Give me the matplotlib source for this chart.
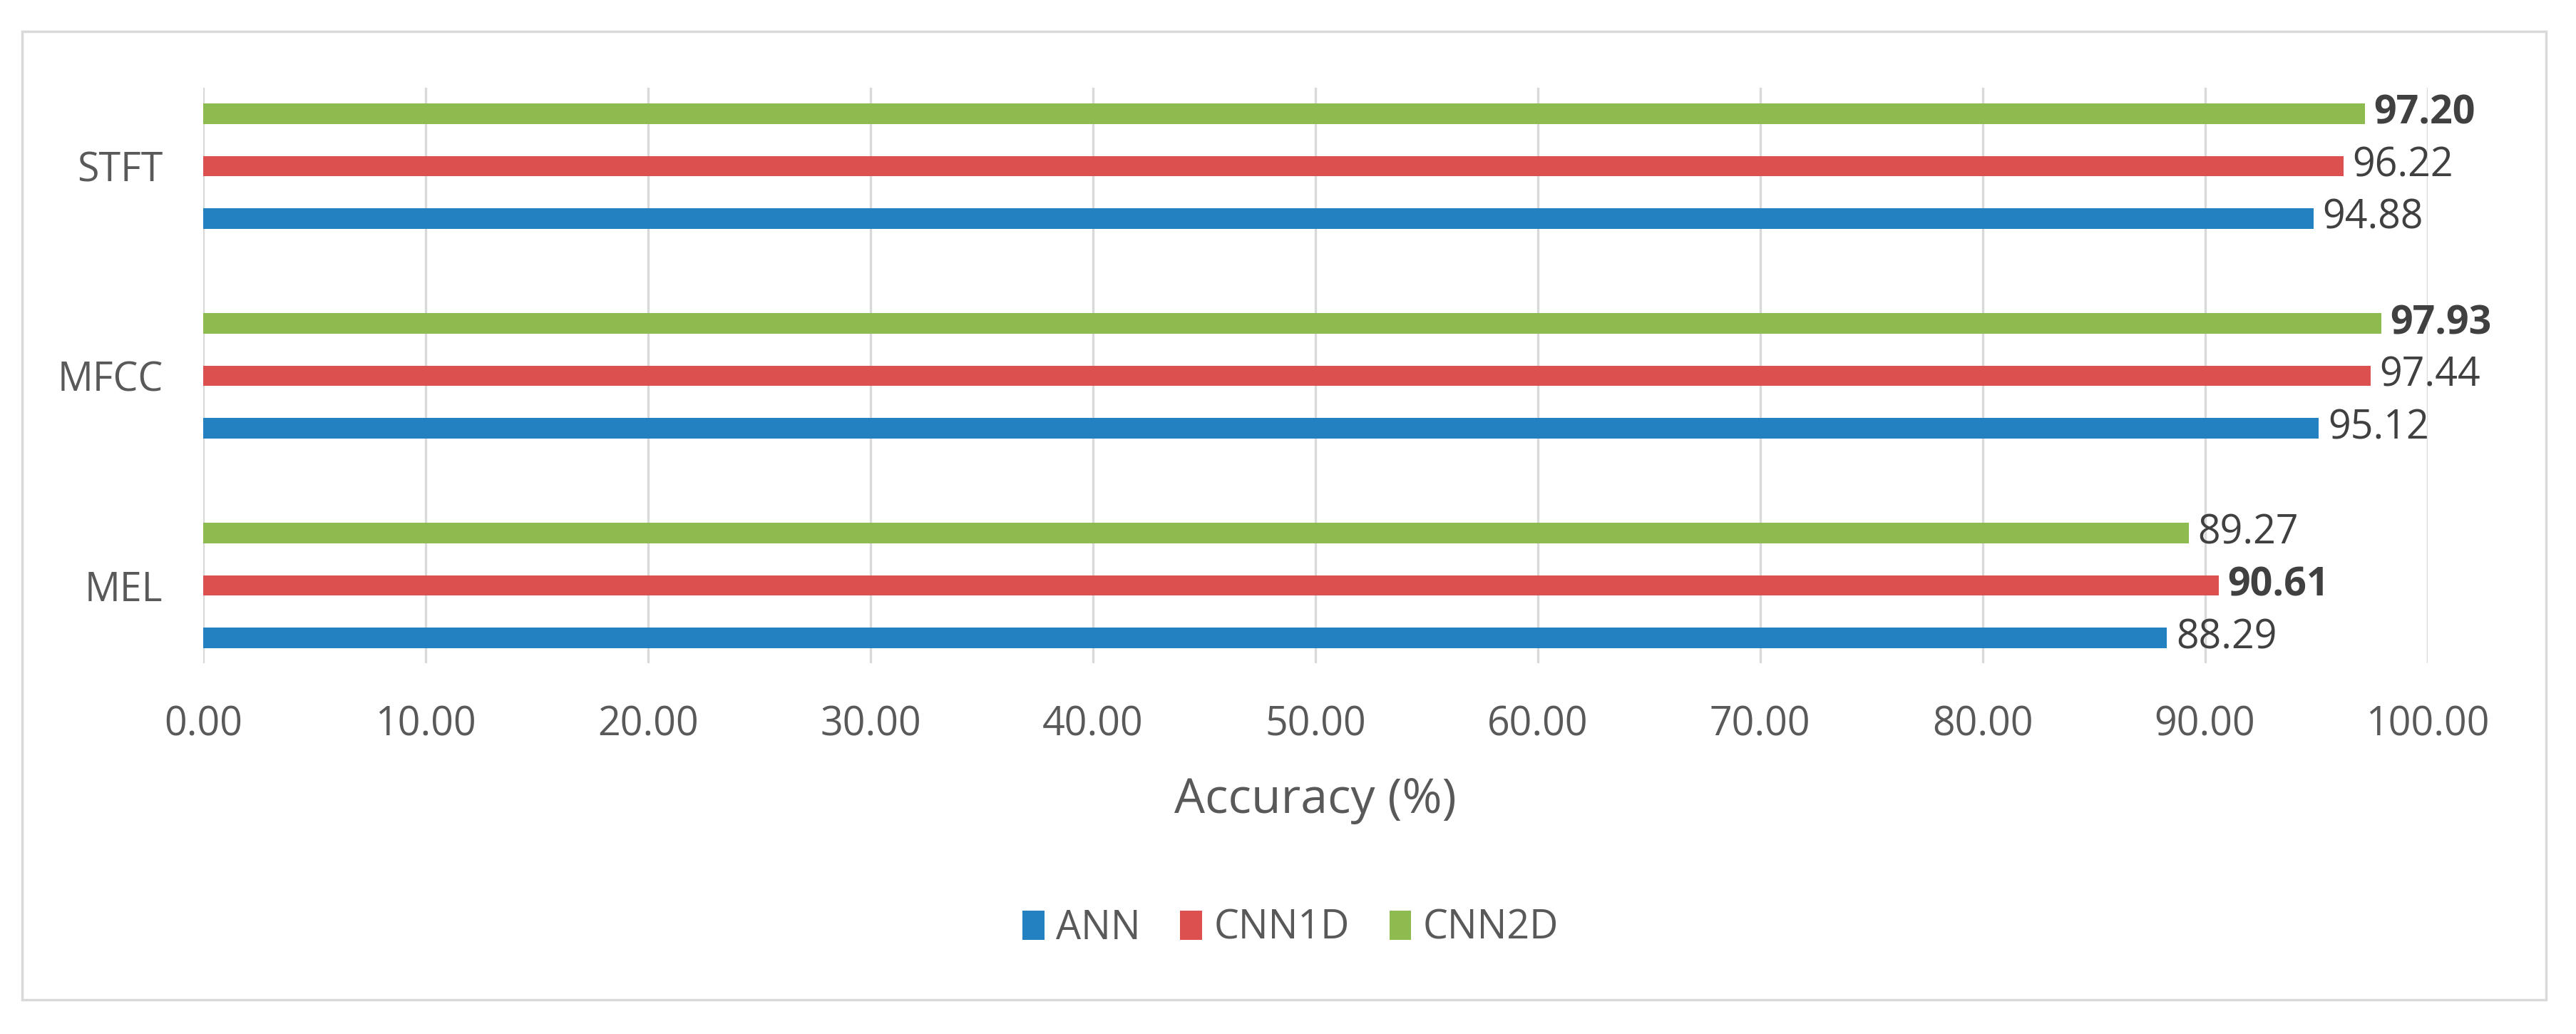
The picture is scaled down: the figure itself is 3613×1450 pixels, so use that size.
import numpy as np
import matplotlib
matplotlib.use("Agg")
import matplotlib.pyplot as plt
import matplotlib.patches as patches

# data
features = ["MEL", "MFCC", "STFT"]
models = ["ANN", "CNN1D", "CNN2D"]
ann = [88.29, 95.12, 94.88]
cnn1d = [90.61, 97.44, 96.22]
cnn2d = [89.27, 97.93, 97.20]
x_ticks = [0, 10, 20, 30, 40, 50, 60, 70, 80, 90, 100]

colors = ["#2481C1", "#DC5050", "#8DBB4F"]

plt.rcParams['font.family'] = ['Open Sans', 'DejaVu Sans']

fig = plt.figure(figsize=(36.13, 14.5), dpi=100)
ax = fig.add_axes([0.079, 0.3586, 0.8633, 0.5566])

# light grey frame round the whole chart
frame = patches.Rectangle((0.0086, 0.0331), 0.9798, 0.9366, transform=fig.transFigure,
                          facecolor='none', edgecolor='#D9D9D9', linewidth=2.5, zorder=0)
fig.patches.append(frame)

y = np.arange(len(features))
bar_h = 0.097
step = 0.25
series = [ann, cnn1d, cnn2d]
best = np.max(np.array(series), axis=0)

for i, (name, vals) in enumerate(zip(models, series)):
    pos = y + (i - 1) * step
    bars = ax.barh(pos, vals, height=bar_h, color=colors[i], label=name, zorder=3)
    for b, v, cat in zip(bars, vals, range(len(features))):
        weight = 'bold' if v == best[cat] else 'normal'
        ax.annotate(f"{v:.2f}", (v, b.get_y() + b.get_height() / 2),
                    xytext=(9, 0), textcoords='offset points',
                    ha='left', va='center', fontsize=40, color='#404040',
                    fontweight=weight)

ax.set_xlim(0, 100)
ax.set_ylim(-0.37, 2.374)
ax.set_xticks(x_ticks)
ax.set_xticklabels([f"{t:.2f}" for t in x_ticks])
ax.set_yticks(y)
ax.set_yticklabels(features)
ax.tick_params(axis='both', length=0, labelsize=40, colors='#595959')
ax.tick_params(axis='x', pad=42)
ax.tick_params(axis='y', pad=41)

ax.grid(axis='x', color='#D9D9D9', linewidth=2.4, zorder=0)
ax.set_axisbelow(True)
for s in ax.spines.values():
    s.set_visible(False)

ax.set_xlabel("Accuracy (%)", fontsize=49, color='#595959', va='center')
ax.xaxis.set_label_coords(0.5, -0.238)

fig.legend(loc='center', bbox_to_anchor=(0.501, 0.102), ncol=3, frameon=False,
           fontsize=40, labelcolor='#595959', handlelength=0.55, handleheight=0.75,
           handletextpad=0.3, columnspacing=1.0)

fig.savefig("out.png", dpi=100, facecolor='white')
